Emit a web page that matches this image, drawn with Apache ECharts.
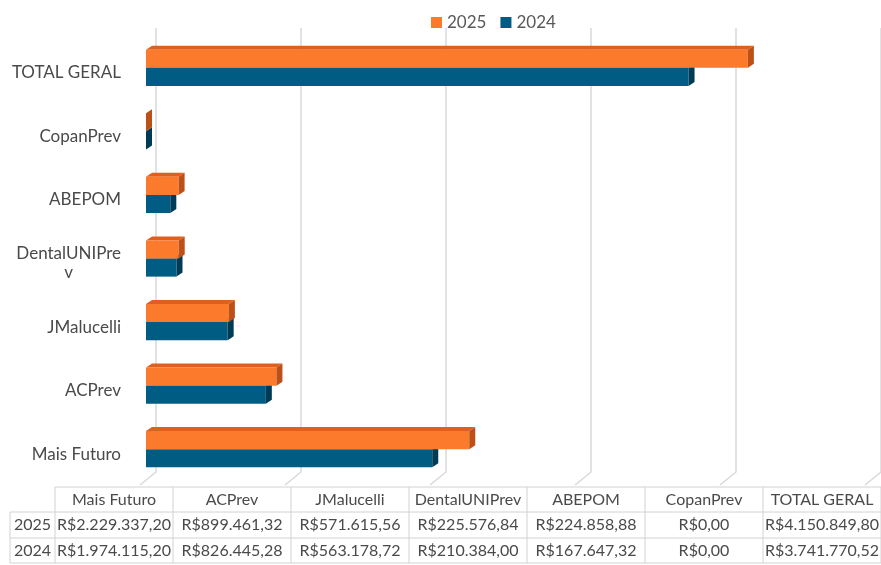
<!DOCTYPE html>
<html>
<head>
<meta charset="utf-8">
<script src="https://cdn.jsdelivr.net/npm/echarts@6/dist/echarts.min.js"></script>
<style>
html,body{margin:0;padding:0;background:#fff;}
#chart{width:881px;height:565px;}
</style>
</head>
<body>
<div id="chart"></div>
<script>
const categories = ['Mais Futuro', 'ACPrev', 'JMalucelli', 'DentalUNIPrev', 'ABEPOM', 'CopanPrev', 'TOTAL GERAL'];
const values2025 = [2229337.20, 899461.32, 571615.56, 225576.84, 224858.88, 0, 4150849.80];
const values2024 = [1974115.20, 826445.28, 563178.72, 210384.00, 167647.32, 0, 3741770.52];
const seriesNames = ['2025', '2024'];
const xTicks = [0, 1000000, 2000000, 3000000, 4000000, 5000000];

const FONT = 'Lato, "Noto Sans", sans-serif';
const TEXT = '#4a4a4a';
const colors = {
  '2025': { front: '#FB7A2B', top: '#DF5F1F', side: '#BD4F19' },
  '2024': { front: '#005C82', top: '#1B7096', side: '#003B55' }
};

function brl(v) {
  const parts = v.toFixed(2).split('.');
  return 'R$' + parts[0].replace(/\B(?=(\d{3})+(?!\d))/g, '.') + ',' + parts[1];
}

function barRenderer(name, upper) {
  const c = colors[name];
  return function (params, api) {
    const v = api.value(0), cat = api.value(1);
    const p0 = api.coord([0, cat]);
    const p1 = api.coord([v, cat]);
    const band = api.size([0, 1])[1];
    const h = band * 0.285;
    const off = -10, dx = 6, dy = -4;
    const x0 = p0[0] + off, x1 = p1[0] + off;
    const y0 = upper ? p0[1] - h : p0[1];
    return {
      type: 'group',
      children: [
        { type: 'polygon', shape: { points: [[x0, y0], [x0 + dx, y0 + dy], [x1 + dx, y0 + dy], [x1, y0]] }, style: { fill: c.top } },
        { type: 'rect', shape: { x: x0, y: y0, width: Math.max(x1 - x0, 0), height: h }, style: { fill: c.front } },
        { type: 'polygon', shape: { points: [[x1, y0], [x1 + dx, y0 + dy], [x1 + dx, y0 + h + dy], [x1, y0 + h]] }, style: { fill: c.side } }
      ]
    };
  };
}

function gridRenderer(params, api) {
  const p = api.coord([api.value(0), 0]);
  const cs = params.coordSys;
  const top = cs.y - 8;
  const bottom = cs.y + cs.height - 9;
  return {
    type: 'polyline',
    shape: { points: [[p[0], top], [p[0], bottom], [p[0] - 16, bottom + 13]] },
    style: { stroke: '#d9d9d9', lineWidth: 1.5, fill: null }
  };
}

// data table
const tableLeft = 10, firstColRight = 55, colW = 118, rowY = [487, 512, 538, 563], right = 881;
const tableRows = [
  { label: seriesNames[0], values: values2025 },
  { label: seriesNames[1], values: values2024 }
];
const graphics = [];
const lineStyle = { stroke: '#d2d2d2', lineWidth: 1 };
graphics.push({ type: 'line', shape: { x1: firstColRight, y1: rowY[0], x2: right, y2: rowY[0] }, style: lineStyle });
for (let r = 1; r < rowY.length; r++) {
  graphics.push({ type: 'line', shape: { x1: tableLeft, y1: rowY[r], x2: right, y2: rowY[r] }, style: lineStyle });
}
graphics.push({ type: 'line', shape: { x1: tableLeft, y1: rowY[1], x2: tableLeft, y2: rowY[3] }, style: lineStyle });
for (let k = 0; k <= categories.length; k++) {
  const x = firstColRight + k * colW;
  graphics.push({ type: 'line', shape: { x1: x, y1: rowY[0], x2: x, y2: rowY[3] }, style: lineStyle });
}
function cellText(text, cx, cy) {
  return { type: 'text', x: cx, y: cy, style: { text: text, fill: TEXT, font: '16px ' + FONT, align: 'center', verticalAlign: 'middle', textAlign: 'center', textVerticalAlign: 'middle' } };
}
categories.forEach(function (cat, k) {
  graphics.push(cellText(cat, firstColRight + k * colW + colW / 2, (rowY[0] + rowY[1]) / 2));
});
tableRows.forEach(function (row, r) {
  const cy = (rowY[r + 1] + rowY[r + 2]) / 2;
  graphics.push(cellText(row.label, (tableLeft + firstColRight) / 2, cy));
  row.values.forEach(function (v, k) {
    graphics.push(cellText(brl(v), firstColRight + k * colW + colW / 2, cy));
  });
});

const chart = echarts.init(document.getElementById('chart'));
chart.setOption({
  animation: false,
  backgroundColor: '#fff',
  legend: {
    data: seriesNames,
    left: 426, top: 9,
    icon: 'rect', itemWidth: 11, itemHeight: 11, itemGap: 14,
    textStyle: { color: '#595959', fontSize: 17, fontFamily: FONT }
  },
  grid: { left: 156, right: 0, top: 36, bottom: 84 },
  xAxis: {
    type: 'value', min: 0, max: 5000000, interval: 1000000,
    axisLabel: { show: false }, axisLine: { show: false }, axisTick: { show: false },
    splitLine: { show: false }
  },
  yAxis: {
    type: 'category', data: categories,
    axisLine: { show: false }, axisTick: { show: false },
    axisLabel: {
      margin: 35, color: TEXT, fontSize: 17, fontFamily: FONT,
      padding: [10, 0, 0, 0],
      formatter: function (v) {
        if (v === 'DentalUNIPrev') return '{a|DentalUNIPre}\n{b|v}';
        return v;
      },
      rich: {
        a: { color: TEXT, fontSize: 17, fontFamily: FONT, lineHeight: 19 },
        b: { color: TEXT, fontSize: 17, fontFamily: FONT, lineHeight: 19, align: 'center' }
      }
    }
  },
  series: [
    {
      name: 'grid', type: 'custom', silent: true, clip: false, z: 1,
      data: xTicks.map(function (t) { return [t, 0]; }),
      encode: { x: 0, y: 1 },
      renderItem: gridRenderer
    },
    {
      name: seriesNames[0], type: 'custom', z: 4, clip: false,
      itemStyle: { color: colors['2025'].front },
      data: values2025.map(function (v, i) { return [v, i]; }),
      encode: { x: 0, y: 1 },
      renderItem: barRenderer('2025', true)
    },
    {
      name: seriesNames[1], type: 'custom', z: 3, clip: false,
      itemStyle: { color: colors['2024'].front },
      data: values2024.map(function (v, i) { return [v, i]; }),
      encode: { x: 0, y: 1 },
      renderItem: barRenderer('2024', false)
    }
  ],
  graphic: { elements: graphics }
});
</script>
</body>
</html>
